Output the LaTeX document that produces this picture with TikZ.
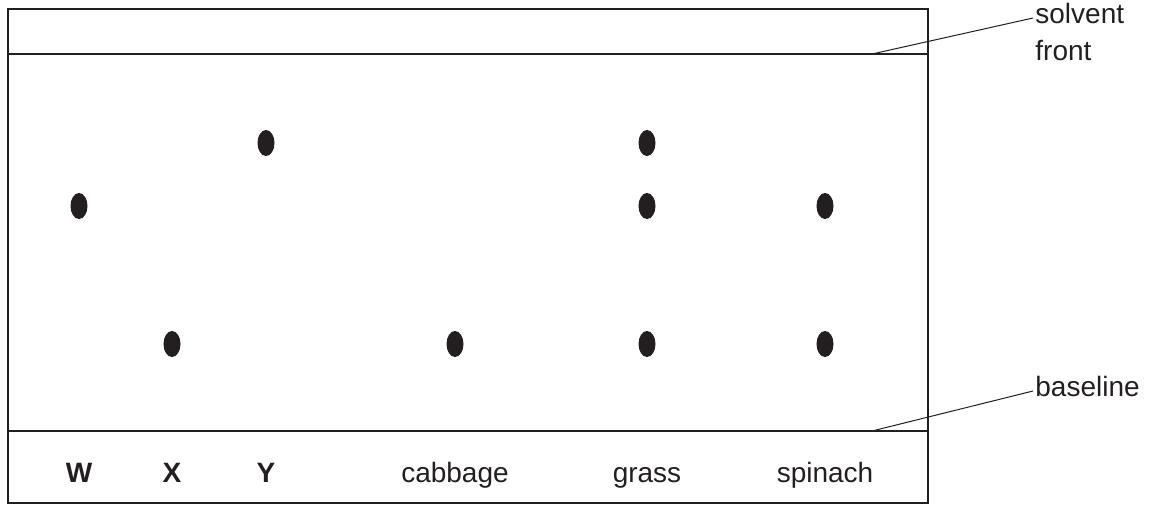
\documentclass[tikz,border=0pt]{standalone}
\usepackage{fontspec}
\setmainfont{Liberation Sans}
\usepackage{xcolor}
\usepackage{tikz}
\usetikzlibrary{positioning,shapes.geometric}
\definecolor{ink}{HTML}{231F20}

\begin{document}
\begin{tikzpicture}[
    x=0.5pt, y=-0.5pt,
    spot/.style={ellipse, fill=ink, inner sep=0pt, minimum width=8.5pt, minimum height=13pt},
    lane/.style={font=\fontsize{14}{17}\selectfont, text=ink, inner sep=1pt, text height=0.72em, text depth=0.21em},
    unknown/.style={lane, font=\fontsize{14}{17}\selectfont\bfseries},
    frame/.style={draw=ink, line width=1.2pt},
    leader/.style={draw=ink, line width=0.5pt}
]
\useasboundingbox (0,0) rectangle (1152,505);

% Chromatography paper
\draw[frame] (8,9) rectangle (928,503);
\draw[frame] (8,54) -- (928,54);
\draw[frame] (8,431) -- (928,431);
\coordinate (front) at (872,54);
\coordinate (base) at (872,431);

% Spots
\node[spot] (w1) at (79,206) {};
\node[spot] (x1) at (172,344) {};
\node[spot] (y1) at (266,143) {};
\node[spot] (c1) at (455,344) {};
\node[spot] (g1) at (647,143) {};
\node[spot] (g2) at (647,206) {};
\node[spot] (g3) at (647,344) {};
\node[spot] (s1) at (825,206) {};
\node[spot] (s2) at (825,344) {};

% Sample names
\node[unknown, anchor=base] (wlbl) at (79,482) {W};
\node[unknown, anchor=base] (xlbl) at (172,482) {X};
\node[unknown, anchor=base] (ylbl) at (266,482) {Y};
\node[lane, anchor=base] (clbl) at (455,482) {cabbage};
\node[lane, anchor=base] (glbl) at (647,482) {grass};
\node[lane, anchor=base] (slbl) at (825,482) {spinach};

% Line labels
\node[lane, anchor=west] (solvent) at (1033,18) {solvent};
\node[lane, below=7pt of solvent.south west, anchor=north west] (frontlbl) {front};
\node[lane, anchor=west] (baselbl) at (1033,391) {baseline};
\draw[leader] (front) -- (solvent.west);
\draw[leader] (base) -- (baselbl.west);

\end{tikzpicture}
\end{document}
